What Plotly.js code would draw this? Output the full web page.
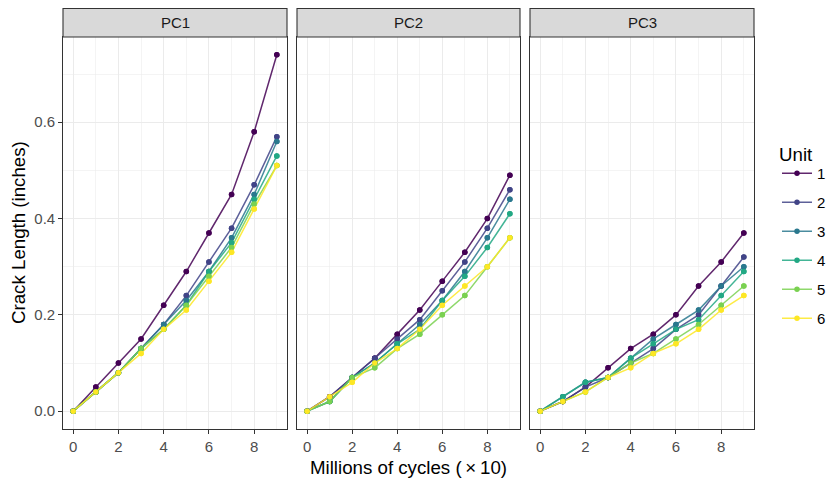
<!DOCTYPE html>
<html><head><meta charset="utf-8">
<script src="https://cdn.plot.ly/plotly-3.0.1.min.js"></script>
<style>html,body{margin:0;padding:0;background:#fff}#chart{width:833px;height:478px}</style>
</head><body><div id="chart"></div>
<script>
const cycles = [0,1,2,3,4,5,6,7,8,9];
const panelNames = ['PC1','PC2','PC3'];
const unitNames = ['1','2','3','4','5','6'];
const legendTitle = 'Unit';
const xTicks = [0,2,4,6,8];
const yTicks = [0,0.2,0.4,0.6];
const yTickText = ['0.0','0.2','0.4','0.6'];

const pc1_unit1 = [0,0.05,0.10,0.15,0.22,0.29,0.37,0.45,0.58,0.74];
const pc1_unit2 = [0,0.04,0.08,0.13,0.18,0.24,0.31,0.38,0.47,0.57];
const pc1_unit3 = [0,0.04,0.08,0.13,0.18,0.23,0.29,0.36,0.45,0.56];
const pc1_unit4 = [0,0.04,0.08,0.13,0.17,0.22,0.29,0.35,0.44,0.53];
const pc1_unit5 = [0,0.04,0.08,0.13,0.17,0.22,0.28,0.34,0.43,0.51];
const pc1_unit6 = [0,0.04,0.08,0.12,0.17,0.21,0.27,0.33,0.42,0.51];

const pc2_unit1 = [0,0.03,0.07,0.11,0.16,0.21,0.27,0.33,0.40,0.49];
const pc2_unit2 = [0,0.03,0.07,0.11,0.15,0.19,0.25,0.31,0.38,0.46];
const pc2_unit3 = [0,0.02,0.07,0.10,0.14,0.18,0.23,0.29,0.36,0.44];
const pc2_unit4 = [0,0.02,0.07,0.10,0.14,0.17,0.23,0.28,0.34,0.41];
const pc2_unit5 = [0,0.02,0.07,0.09,0.13,0.16,0.20,0.24,0.30,0.36];
const pc2_unit6 = [0,0.03,0.06,0.10,0.13,0.17,0.22,0.26,0.30,0.36];

const pc3_unit1 = [0,0.02,0.05,0.09,0.13,0.16,0.20,0.26,0.31,0.37];
const pc3_unit2 = [0,0.02,0.05,0.07,0.10,0.13,0.17,0.20,0.26,0.32];
const pc3_unit3 = [0,0.03,0.06,0.07,0.11,0.15,0.18,0.21,0.26,0.30];
const pc3_unit4 = [0,0.03,0.06,0.07,0.11,0.14,0.17,0.19,0.24,0.29];
const pc3_unit5 = [0,0.02,0.04,0.07,0.10,0.12,0.15,0.18,0.22,0.26];
const pc3_unit6 = [0,0.02,0.04,0.07,0.09,0.12,0.14,0.17,0.21,0.24];

const panelData = [
  [pc1_unit1,pc1_unit2,pc1_unit3,pc1_unit4,pc1_unit5,pc1_unit6],
  [pc2_unit1,pc2_unit2,pc2_unit3,pc2_unit4,pc2_unit5,pc2_unit6],
  [pc3_unit1,pc3_unit2,pc3_unit3,pc3_unit4,pc3_unit5,pc3_unit6]
];
const unitColors = ['#440154','#414487','#2A788E','#22A884','#7AD151','#FDE725'];
const lineColors = ['rgba(68,1,84,0.85)','rgba(65,68,135,0.85)','rgba(42,120,142,0.85)','rgba(34,168,132,0.85)','rgba(122,209,81,0.85)','rgba(253,231,37,0.85)'];

const W = 833, H = 478;
const mL = 63, mR = 79, mT = 37, mB = 49;
const plotW = W - mL - mR, plotH = H - mT - mB;
const panelPx = [[63,287],[297,520],[530,754]];
const domains = panelPx.map(p => [(p[0]-mL)/plotW, (p[1]-mL)/plotW]);

const traces = [];
panelData.forEach((series, p) => {
  const xa = p === 0 ? 'x' : 'x' + (p+1);
  const ya = p === 0 ? 'y' : 'y' + (p+1);
  series.forEach((vals, u) => {
    traces.push({
      x: cycles, y: vals, xaxis: xa, yaxis: ya, type: 'scatter', mode: 'lines+markers',
      line: {color: lineColors[u], width: 1.5},
      marker: {color: unitColors[u], size: 5.5},
      name: unitNames[u], legendgroup: 'u' + u, showlegend: p === 0, hoverinfo: 'skip'
    });
  });
  series.forEach((vals, u) => {
    traces.push({
      x: cycles, y: vals, xaxis: xa, yaxis: ya, type: 'scatter', mode: 'markers',
      marker: {color: unitColors[u], size: 5.5},
      name: unitNames[u], legendgroup: 'u' + u, showlegend: false, hoverinfo: 'skip'
    });
  });
});

const font = '"Liberation Sans", Arial, Helvetica, sans-serif';
const tickSize = 15, titleSize = 18.7;
function xAxis(d, anchor) {
  return {
    domain: d, anchor: anchor, range: [-0.45, 9.45], tickmode: 'array', tickvals: xTicks,
    ticktext: xTicks.map(String),
    showgrid: true, gridcolor: '#EBEBEB', gridwidth: 1.1,
    minor: {tickmode: 'array', tickvals: [1,3,5,7,9], showgrid: true, gridcolor: '#EBEBEB', gridwidth: 0.55, ticks: ''},
    ticks: 'outside', ticklen: 3.7, tickwidth: 1.1, tickcolor: '#333333',
    showline: true, mirror: true, linecolor: '#333333', linewidth: 1.1, zeroline: false,
    tickfont: {family: font, size: tickSize, color: '#4D4D4D'}, fixedrange: true, automargin: false
  };
}
function yAxis(anchor, showLabels) {
  return {
    domain: [0,1], anchor: anchor, range: [-0.037, 0.777], tickmode: 'array', tickvals: yTicks,
    ticktext: yTickText, showticklabels: showLabels,
    showgrid: true, gridcolor: '#EBEBEB', gridwidth: 1.1,
    minor: {tickmode: 'array', tickvals: [0.1,0.3,0.5,0.7], showgrid: true, gridcolor: '#EBEBEB', gridwidth: 0.55, ticks: ''},
    ticks: showLabels ? 'outside' : '', ticklen: 3.7, tickwidth: 1.1, tickcolor: '#333333',
    showline: true, mirror: true, linecolor: '#333333', linewidth: 1.1, zeroline: false,
    tickfont: {family: font, size: tickSize, color: '#4D4D4D'}, fixedrange: true, automargin: false
  };
}

const stripTop = 1 + (mT - 8.5) / plotH;
const shapes = [], annotations = [];
domains.forEach((d, i) => {
  shapes.push({type: 'rect', xref: 'paper', yref: 'paper', x0: d[0], x1: d[1], y0: 1, y1: stripTop,
    fillcolor: '#D9D9D9', line: {color: '#333333', width: 1.1}, layer: 'above'});
  annotations.push({xref: 'paper', yref: 'paper', x: (d[0]+d[1])/2, y: (1+stripTop)/2, text: panelNames[i],
    showarrow: false, xanchor: 'center', yanchor: 'middle', font: {family: font, size: tickSize, color: '#1A1A1A'}});
});
annotations.push({xref: 'paper', yref: 'paper', x: 0.5, y: (plotH - (467 - mT)) / plotH, text: 'Millions of cycles (\u2009×\u200910)',
  showarrow: false, xanchor: 'center', yanchor: 'middle', font: {family: font, size: titleSize, color: '#000000'}});
annotations.push({xref: 'paper', yref: 'paper', x: (18 - mL) / plotW, y: 0.5, text: 'Crack Length (inches)', textangle: -90,
  showarrow: false, xanchor: 'center', yanchor: 'middle', font: {family: font, size: titleSize, color: '#000000'}});
annotations.push({xref: 'paper', yref: 'paper', x: (777 - mL) / plotW, y: (H - mB - 155) / plotH, text: legendTitle,
  showarrow: false, xanchor: 'left', yanchor: 'middle', font: {family: font, size: titleSize, color: '#000000'}});

const layout = {
  width: W, height: H, margin: {l: mL, r: mR, t: mT, b: mB, pad: 0, autoexpand: false},
  paper_bgcolor: '#FFFFFF', plot_bgcolor: '#FFFFFF',
  font: {family: font},
  xaxis: xAxis(domains[0], 'y'), xaxis2: xAxis(domains[1], 'y2'), xaxis3: xAxis(domains[2], 'y3'),
  yaxis: yAxis('x', true), yaxis2: yAxis('x2', false), yaxis3: yAxis('x3', false),
  shapes: shapes, annotations: annotations,
  showlegend: true,
  legend: {xref: 'container', yref: 'container', x: 777 / W, y: 1 - 157 / H, xanchor: 'left', yanchor: 'top',
    font: {family: font, size: tickSize, color: '#000000'}, tracegroupgap: 6.5, bgcolor: 'rgba(0,0,0,0)', borderwidth: 0,
    traceorder: 'grouped'}
};
Plotly.newPlot('chart', traces, layout, {displayModeBar: false, staticPlot: true});
</script>
</body></html>
